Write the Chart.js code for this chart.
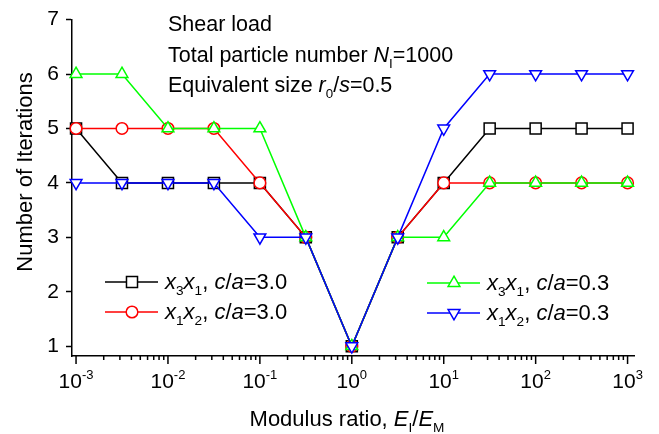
<!DOCTYPE html>
<html>
<head>
<meta charset="utf-8">
<script src="https://cdn.jsdelivr.net/npm/chart.js@4/dist/chart.umd.min.js"></script>
<style>
  html, body { margin: 0; padding: 0; background: #fff; }
  #wrap { width: 659px; height: 434px; }
</style>
</head>
<body>
<div id="wrap"><canvas id="chart"></canvas></div>
<script>
// modulus ratio E_I/E_M of each run (half-decade steps)
const modulusRatio = [0.001, 0.00316, 0.01, 0.0316, 0.1, 0.316, 1, 3.16, 10, 31.6, 100, 316, 1000];

// number of iterations
const x3x1_ca30 = [5, 4, 4, 4, 4, 3, 1, 3, 4, 5, 5, 5, 5];
const x1x2_ca30 = [5, 5, 5, 5, 4, 3, 1, 3, 4, 4, 4, 4, 4];
const x3x1_ca03 = [6, 6, 5, 5, 5, 3, 1, 3, 3, 4, 4, 4, 4];
const x1x2_ca03 = [4, 4, 4, 4, 3, 3, 1, 3, 5, 6, 6, 6, 6];

const yTicks = [1, 2, 3, 4, 5, 6, 7];
const xDecades = [-3, -2, -1, 0, 1, 2, 3];

const FONT = 'Arial, "Liberation Sans", sans-serif';

// rich text pieces: t = text, it = italic, sub / sup = small shifted
const legendLabels = [
  [{t:'x',it:1},{t:'3',sub:1},{t:'x',it:1},{t:'1',sub:1},{t:', '},{t:'c',it:1},{t:'/'},{t:'a',it:1},{t:'=3.0'}],
  [{t:'x',it:1},{t:'1',sub:1},{t:'x',it:1},{t:'2',sub:1},{t:', '},{t:'c',it:1},{t:'/'},{t:'a',it:1},{t:'=3.0'}],
  [{t:'x',it:1},{t:'3',sub:1},{t:'x',it:1},{t:'1',sub:1},{t:', '},{t:'c',it:1},{t:'/'},{t:'a',it:1},{t:'=0.3'}],
  [{t:'x',it:1},{t:'1',sub:1},{t:'x',it:1},{t:'2',sub:1},{t:', '},{t:'c',it:1},{t:'/'},{t:'a',it:1},{t:'=0.3'}]
];
const noteLines = [
  [{t:'Shear load'}],
  [{t:'Total particle number '},{t:'N',it:1},{t:'I',sub:1},{t:'=1000'}],
  [{t:'Equivalent size '},{t:'r',it:1},{t:'0',sub:1},{t:'/'},{t:'s',it:1},{t:'=0.5'}]
];
const xTitle = [{t:'Modulus ratio, '},{t:'E',it:1},{t:'I',sub:1},{t:'/'},{t:'E',it:1},{t:'M',sub:1}];
const yTitle = 'Number of Iterations';

function toPoints(ys) {
  return ys.map((y, i) => ({ x: modulusRatio[i], y: y }));
}

function richWidth(ctx, parts, size) {
  let w = 0;
  parts.forEach(p => {
    const s = (p.sub || p.sup) ? size * 0.62 : size;
    ctx.font = (p.it ? 'italic ' : '') + s + 'px ' + FONT;
    w += ctx.measureText(p.t).width;
  });
  return w;
}

function drawRich(ctx, x, y, parts, size, align) {
  if (align === 'center') x -= richWidth(ctx, parts, size) / 2;
  ctx.textAlign = 'left';
  ctx.textBaseline = 'alphabetic';
  parts.forEach(p => {
    const s = (p.sub || p.sup) ? size * 0.62 : size;
    let dy = 0;
    if (p.sub) dy = size * 0.28;
    if (p.sup) dy = -size * 0.45;
    ctx.font = (p.it ? 'italic ' : '') + s + 'px ' + FONT;
    ctx.fillText(p.t, x, y + dy);
    x += ctx.measureText(p.t).width;
  });
}

const series = [
  { data: x3x1_ca30, color: '#000000', style: 'rect', radius: 7.8, rot: 0, order: 4 },
  { data: x1x2_ca30, color: '#ff0000', style: 'circle', radius: 5.8, rot: 0, order: 3 },
  { data: x3x1_ca03, color: '#00ff00', style: 'triangle', radius: 6.8, rot: 0, order: 2 },
  { data: x1x2_ca03, color: '#0000ff', style: 'triangle', radius: 6.8, rot: 180, order: 1 }
];

const decorPlugin = {
  id: 'decor',
  afterDraw(chart) {
    const ctx = chart.ctx;
    const xs = chart.scales.x;
    const area = chart.chartArea;
    ctx.save();
    ctx.strokeStyle = '#000';
    ctx.fillStyle = '#000';
    ctx.lineWidth = 1.5;

    // x ticks: long at decades, short at 2..9
    xDecades.forEach(d => {
      for (let m = 1; m <= 9; m++) {
        if (d === 3 && m > 1) break;
        const px = xs.getPixelForValue(m * Math.pow(10, d));
        const len = m === 1 ? 8 : 4;
        ctx.beginPath();
        ctx.moveTo(px, area.bottom);
        ctx.lineTo(px, area.bottom + len);
        ctx.stroke();
      }
      const px = xs.getPixelForValue(Math.pow(10, d));
      const parts = [{t:'10'},{t:String(d), sup:1}];
      drawRich(ctx, px - richWidth(ctx, parts, 21) / 2, 388, parts, 21);
    });

    // axis titles
    drawRich(ctx, 347, 426, xTitle, 22, 'center');
    ctx.save();
    ctx.translate(32, 172);
    ctx.rotate(-Math.PI / 2);
    ctx.font = '22px ' + FONT;
    ctx.textAlign = 'center';
    ctx.fillText(yTitle, 0, 0);
    ctx.restore();

    // notes in the upper part
    noteLines.forEach((line, i) => drawRich(ctx, 168, 31 + i * 30.5, line, 21.5));

    // legend
    const legendPos = [[105, 282], [105, 312], [427, 283], [427, 313]];
    series.forEach((s, i) => {
      const [lx, ly] = legendPos[i];
      ctx.strokeStyle = s.color;
      ctx.lineWidth = 1.5;
      ctx.beginPath();
      ctx.moveTo(lx, ly);
      ctx.lineTo(lx + 53, ly);
      ctx.stroke();
      ctx.fillStyle = '#fff';
      Chart.helpers.drawPoint(ctx, { pointStyle: s.style, rotation: s.rot, radius: s.radius, borderWidth: 1.5 }, lx + 27, ly);
      ctx.fillStyle = '#000';
      drawRich(ctx, lx + 60, ly + 7, legendLabels[i], 22);
    });
    ctx.restore();
  }
};

new Chart(document.getElementById('chart'), {
  type: 'line',
  data: {
    datasets: series.map(s => ({
      data: toPoints(s.data),
      borderColor: s.color,
      borderWidth: 1.5,
      pointStyle: s.style,
      pointRotation: s.rot,
      pointRadius: s.radius,
      pointHoverRadius: s.radius,
      pointBackgroundColor: '#ffffff',
      pointBorderColor: s.color,
      pointBorderWidth: 1.5,
      order: s.order,
      tension: 0,
      clip: false
    }))
  },
  options: {
    responsive: true,
    maintainAspectRatio: false,
    animation: false,
    layout: { padding: { top: 15, right: 25, left: 0, bottom: 0 } },
    plugins: { legend: { display: false }, tooltip: { enabled: false } },
    scales: {
      x: {
        type: 'logarithmic',
        min: Math.pow(10, -3.044),
        max: Math.pow(10, 3.07),
        afterBuildTicks: scale => { scale.ticks = xDecades.map(d => ({ value: Math.pow(10, d) })); },
        afterFit: scale => { scale.height = 78; },
        ticks: { display: false },
        grid: { display: false },
        border: { display: true, color: '#000', width: 1.5 }
      },
      y: {
        type: 'linear',
        min: 0.82,
        max: 7,
        afterBuildTicks: scale => { scale.ticks = yTicks.map(v => ({ value: v })); },
        afterFit: scale => { scale.width = 72; },
        ticks: { color: '#000', font: { family: FONT, size: 21 }, padding: 7 },
        grid: { drawOnChartArea: false, tickLength: 6, tickWidth: 1.5, tickColor: '#000' },
        border: { display: true, color: '#000', width: 1.5 }
      }
    }
  },
  plugins: [decorPlugin]
});
</script>
</body>
</html>
